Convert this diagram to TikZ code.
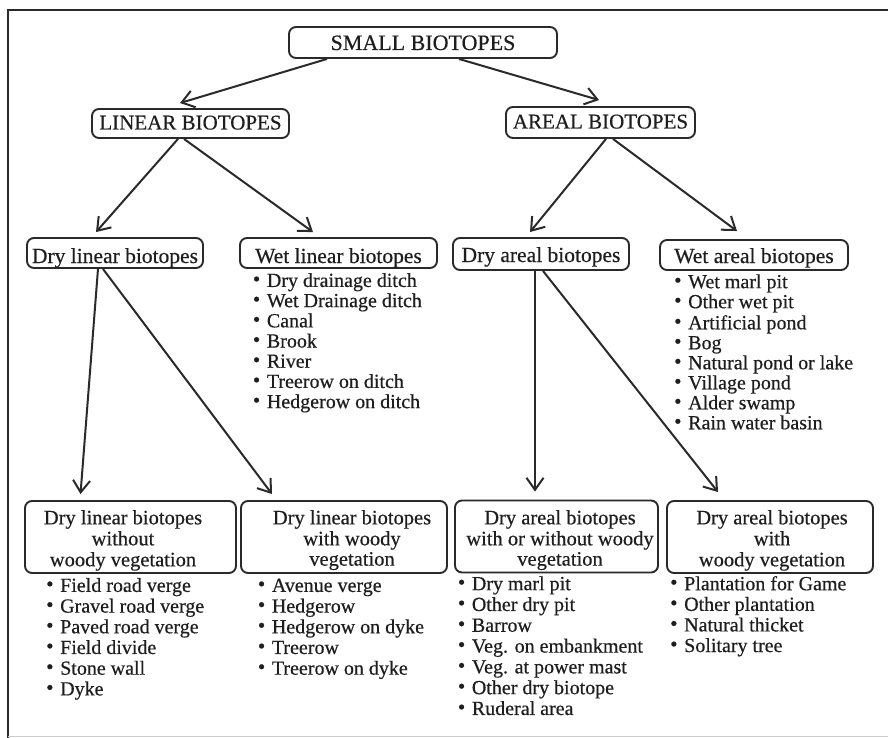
\documentclass[tikz,border=0pt]{standalone}
\usepackage{fontspec}
\setmainfont{Liberation Serif}[FakeBold=0.45]
\usetikzlibrary{arrows.meta}
\definecolor{ink}{HTML}{1E1E1E}
\definecolor{linec}{HTML}{2A2A2A}
\newcommand\bt[2]{\raisebox{-#1pt}[15pt][5pt]{#2}}
\newcommand\bu{\strut\makebox[14pt][l]{\raisebox{1pt}{\scalebox{1.05}{\textbullet}}}}
\begin{document}
\begin{tikzpicture}[x=1pt,y=-1pt,
  box/.style={draw=linec, line width=1.9pt, rounded corners=7pt, inner sep=0pt, text=ink},
  capf/.style={font=\fontsize{21}{24}\selectfont},
  midf/.style={font=\fontsize{21.5}{24}\selectfont},
  arr/.style={draw=linec, line width=2pt, -{Straight Barb[length=12pt,width=17pt]}},
  lst/.style={anchor=north west, inner sep=0pt, align=left, text=ink},
  btxt/.style={anchor=north, inner sep=0pt, align=center, text=ink, font=\fontsize{20.5}{19.2}\selectfont}]
\useasboundingbox (0,0) rectangle (888,738);
\fill[white] (0,0) rectangle (888,738);
\draw[linec, line width=2pt] (8,738) -- (8,10) -- (888,10);
\draw[black!20, line width=1pt] (8,736) -- (888,736);

% level 0 and 1
\node[box, capf, font=\fontsize{22}{24}\selectfont, minimum width=268, minimum height=31] (small) at (423,42.5) {\bt{2.5}{SMALL BIOTOPES}};
\node[box, capf, minimum width=197, minimum height=29] (lin) at (190.5,123.5) {\bt{1}{LINEAR BIOTOPES}};
\node[box, capf, minimum width=189, minimum height=31] (are) at (600.5,122.5) {\bt{1}{AREAL BIOTOPES}};

% level 2
\node[box, midf, minimum width=176, minimum height=30] (drylin) at (115,253) {\bt{5}{Dry linear biotopes}};
\node[box, midf, minimum width=197, minimum height=30] (wetlin) at (338.5,253) {\bt{5}{Wet linear biotopes}};
\node[box, midf, minimum width=176, minimum height=32] (dryar) at (541,254) {\bt{3}{Dry areal biotopes}};
\node[box, midf, minimum width=188, minimum height=30] (wetar) at (754,255) {\bt{3}{Wet areal biotopes}};

% level 3 boxes
\node[box, minimum width=211, minimum height=72] (b1) at (130.5,537) {};
\node[box, minimum width=206, minimum height=72] (b2) at (344,537) {};
\node[box, minimum width=203, minimum height=72] (b3) at (556.5,536.5) {};
\node[box, minimum width=206, minimum height=72] (b4) at (770,537) {};
\node[btxt] (b1t) at (123,509.9) {\strut Dry linear biotopes\\\strut without\\\strut woody vegetation};
\node[btxt] (b2t) at (352,509.9) {\strut Dry linear biotopes\\\strut with woody\\\strut vegetation};
\node[btxt] (b3t) at (560,509.9) {\strut Dry areal biotopes\\\strut with or without woody\\\strut vegetation};
\node[btxt] (b4t) at (772,509.9) {\strut Dry areal biotopes\\\strut with\\\strut woody vegetation};

% lists
\node[lst, font=\fontsize{20}{20.2}\selectfont] (wl) at (252.7,272.6) {\bu Dry drainage ditch\\\bu Wet Drainage ditch\\\bu Canal\\\bu Brook\\\bu River\\\bu Treerow on ditch\\\bu Hedgerow on ditch};
\node[lst, font=\fontsize{20}{20}\selectfont] (wa) at (674,274) {\bu Wet marl pit\\\bu Other wet pit\\\bu Artificial pond\\\bu Bog\\\bu Natural pond or lake\\\bu Village pond\\\bu Alder swamp\\\bu Rain water basin};
\node[lst, font=\fontsize{20}{20.7}\selectfont] (l1) at (46,577.2) {\bu Field road verge\\\bu Gravel road verge\\\bu Paved road verge\\\bu Field divide\\\bu Stone wall\\\bu Dyke};
\node[lst, font=\fontsize{20}{20.7}\selectfont] (l2) at (257.7,577.2) {\bu Avenue verge\\\bu Hedgerow\\\bu Hedgerow on dyke\\\bu Treerow\\\bu Treerow on dyke};
\node[lst, font=\fontsize{20}{20.8}\selectfont] (l3) at (457.7,575.4) {\bu Dry marl pit\\\bu Other dry pit\\\bu Barrow\\\bu Veg. on embankment\\\bu Veg. at power mast\\\bu Other dry biotope\\\bu Ruderal area};
\node[lst, font=\fontsize{20}{20.6}\selectfont] (l4) at (670,575.6) {\bu Plantation for Game\\\bu Other plantation\\\bu Natural thicket\\\bu Solitary tree};

% connectors
\draw[arr] ([xshift=-96]small.south) -- ([xshift=-10.5,yshift=5]lin.north);
\draw[arr] ([xshift=36]small.south) -- ([xshift=-1.5,yshift=6]are.north);
\draw[arr] ([xshift=-12.5]lin.south) -- ([xshift=-19,yshift=5]drylin.north);
\draw[arr] ([xshift=-6.5]lin.south) -- ([xshift=-25.5,yshift=5]wetlin.north);
\draw[arr] ([xshift=5.5]are.south) -- ([xshift=-11,yshift=5]dryar.north);
\draw[arr] ([xshift=12.5]are.south) -- ([xshift=-17,yshift=8]wetar.north);
\draw[arr] ([xshift=-17]drylin.south) -- ([xshift=-50,yshift=6]b1.north);
\draw[arr] ([xshift=-12]drylin.south) -- ([xshift=-72,yshift=6]b2.north);
\draw[arr] ([xshift=-6]dryar.south) -- ([xshift=-21.5,yshift=8]b3.north);
\draw[arr] ([xshift=2]dryar.south) -- ([xshift=-52,yshift=8]b4.north);
\end{tikzpicture}
\end{document}
